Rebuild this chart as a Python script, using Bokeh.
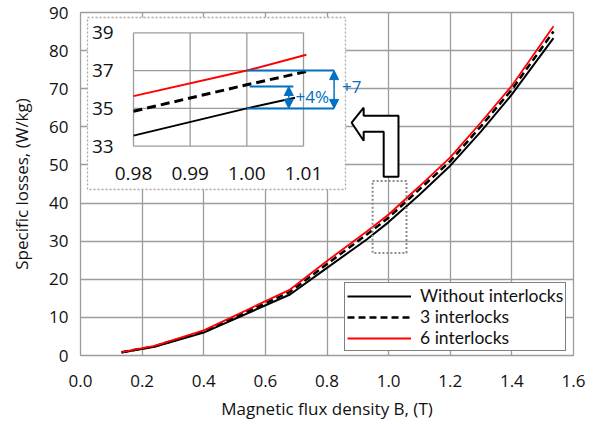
from bokeh.plotting import figure
from bokeh.models import (Range1d, FixedTicker, NumeralTickFormatter, Legend,
                          LegendItem, Arrow, NormalHead)
from bokeh.core.properties import value
from bokeh.embed import file_html
from bokeh.resources import INLINE

# ---------------- data ----------------
b_main = [0.133, 0.24, 0.40, 0.68, 0.80, 0.93, 1.00, 1.10, 1.20, 1.30, 1.40, 1.535]
loss_none = [0.8, 2.3, 6.0, 16.0, 23.0, 30.5, 35.0, 42.2, 49.8, 58.8, 68.5, 83.3]
loss_3 = [0.85, 2.4, 6.3, 16.7, 24.0, 31.8, 36.2, 43.6, 51.0, 60.2, 69.8, 85.0]
loss_6 = [0.9, 2.5, 6.6, 17.3, 24.8, 32.6, 37.0, 44.4, 52.0, 61.2, 70.8, 86.4]

inset_b_none = [0.98, 1.00, 1.0085]
inset_none = [33.56, 35.0, 35.56]
inset_b_3 = [0.98, 1.00, 1.0105]
inset_3 = [34.85, 36.25, 36.95]
inset_b_6 = [0.98, 1.00, 1.0105]
inset_6 = [35.65, 37.0, 37.84]

x_ticks = [0.0, 0.2, 0.4, 0.6, 0.8, 1.0, 1.2, 1.4, 1.6]
y_ticks = [0, 10, 20, 30, 40, 50, 60, 70, 80, 90]
inset_x_ticks = [0.98, 0.99, 1.00, 1.01]
inset_x_labels = ["0.98", "0.99", "1.00", "1.01"]
inset_y_ticks = [33, 35, 37, 39]
inset_y_labels = ["33", "35", "37", "39"]

# ---------------- layout constants ----------------
BL, BR, BT, BB = 80, 16, 12, 67
W, H = 589, 422
FW, FH = W - BL - BR, H - BT - BB   # 493 x 343
FONT = "Open Sans"
GRID = "#9c9c9c"
BLUE = "#0070C0"
TXT = "#111111"

# inset plot area in frame pixels (left, right, top, bottom)
IL, IR, IT, IB = 53, 223, 20.3, 133.7
ux = (inset_x_ticks[-1] - inset_x_ticks[0]) / (IR - IL)
uy = (inset_y_ticks[-1] - inset_y_ticks[0]) / (IB - IT)
ix_range = Range1d(inset_x_ticks[0] - IL * ux, inset_x_ticks[-1] + (FW - IR) * ux)
iy_range = Range1d(inset_y_ticks[0] - (FH - IB) * uy, inset_y_ticks[-1] + IT * uy)

p = figure(width=W, height=H,
           min_border_left=BL, min_border_right=BR, min_border_top=BT, min_border_bottom=BB,
           x_range=Range1d(0, 1.6), y_range=Range1d(0, 90),
           output_backend="svg", toolbar_location=None,
           background_fill_color="white", border_fill_color="white")
p.extra_x_ranges = {"ix": ix_range}
p.extra_y_ranges = {"iy": iy_range}

p.outline_line_color = GRID
p.outline_line_width = 1.3
p.xgrid.grid_line_color = GRID
p.ygrid.grid_line_color = GRID
p.xgrid.grid_line_width = 1.3
p.ygrid.grid_line_width = 1.3

p.xaxis.ticker = FixedTicker(ticks=x_ticks)
p.yaxis.ticker = FixedTicker(ticks=y_ticks)
p.xaxis.formatter = NumeralTickFormatter(format="0.0")
for ax in (p.xaxis, p.yaxis):
    ax.axis_line_color = None
    ax.major_tick_line_color = None
    ax.minor_tick_line_color = None
    ax.major_tick_out = 0
    ax.major_tick_in = 0
    ax.major_label_text_font = FONT
    ax.major_label_text_font_size = "17px"
    ax.major_label_text_color = TXT
    ax.axis_label_text_font = FONT
    ax.axis_label_text_font_size = "17px"
    ax.axis_label_text_font_style = "normal"
    ax.axis_label_text_color = TXT
p.xaxis.axis_label = "Magnetic flux density B, (T)"
p.yaxis.axis_label = "Specific losses, (W/kg)"
p.xaxis.major_label_standoff = 19
p.yaxis.major_label_standoff = 12
p.xaxis.axis_label_standoff = 7
p.yaxis.axis_label_standoff = 13

# ---------------- main curves ----------------
r0 = p.line(b_main, loss_none, line_color="black", line_width=2)
r3 = p.line(b_main, loss_3, line_color="black", line_width=2.5, line_dash="7 4")
r6 = p.line(b_main, loss_6, line_color="#ff0000", line_width=1.8)

# dotted zoom rectangle
p.quad(left=[0.948], right=[1.058], bottom=[26.9], top=[45.8], fill_color=None,
       line_color="#8c8c8c", line_dash="2 2", line_width=2)

# hollow L arrow
arrow_x = [0.880, 0.919, 0.919, 1.032, 1.032, 0.984, 0.984, 0.919, 0.919]
arrow_y = [61.08, 65.01, 62.91, 62.91, 46.9, 46.9, 58.7, 58.7, 56.35]
p.patch(arrow_x, arrow_y, fill_color="white", line_color="black", line_width=2)

# ---------------- inset ----------------
p.quad(left=[7 / FW * 1.6], right=[265 / FW * 1.6],
       top=[90 - 5 / FH * 90], bottom=[90 - 177 / FH * 90],
       fill_color="white", line_color="#a8a8a8", line_dash="2 2", line_width=1.3)

x0, x1 = inset_x_ticks[0], inset_x_ticks[-1]
y0, y1 = inset_y_ticks[0], inset_y_ticks[-1]
p.segment(x0=inset_x_ticks, x1=inset_x_ticks, y0=[y0] * 4, y1=[y1] * 4,
          line_color=GRID, line_width=1.3, x_range_name="ix", y_range_name="iy")
p.segment(x0=[x0] * 4, x1=[x1] * 4, y0=inset_y_ticks, y1=inset_y_ticks,
          line_color=GRID, line_width=1.3, x_range_name="ix", y_range_name="iy")

p.line(inset_b_none, inset_none, line_color="black", line_width=2,
       x_range_name="ix", y_range_name="iy")
p.line(inset_b_3, inset_3, line_color="black", line_width=3, line_dash="9 5",
       x_range_name="ix", y_range_name="iy")
p.line(inset_b_6, inset_6, line_color="#ff0000", line_width=2,
       x_range_name="ix", y_range_name="iy")

p.text(x=[x0 - 0.0035] * 4, y=inset_y_ticks, text=inset_y_labels,
       text_font=value(FONT), text_font_size="19px", text_align="right",
       text_baseline="middle", text_color=TXT,
       x_range_name="ix", y_range_name="iy")
p.text(x=inset_x_ticks, y=[y0 - 1.44] * 4, text=inset_x_labels,
       text_font=value(FONT), text_font_size="19px", text_align="center",
       text_baseline="middle", text_color=TXT,
       x_range_name="ix", y_range_name="iy")

# blue annotations
p.segment(x0=[1.00, 1.00, 1.0005], x1=[1.0154, 1.0154, 1.0082],
          y0=[37.0, 35.0, 36.16], y1=[37.0, 35.0, 36.16],
          line_color=BLUE, line_width=2, x_range_name="ix", y_range_name="iy")
for xa, ya0, ya1 in [(1.0074, 35.0, 36.16), (1.0154, 35.0, 37.0)]:
    for yend in (ya0, ya1):
        p.add_layout(Arrow(x_start=xa, y_start=(ya0 + ya1) / 2, x_end=xa, y_end=yend,
                           end=NormalHead(size=9, fill_color=BLUE, line_color=BLUE,
                                          line_width=1),
                           line_color=BLUE, line_width=1.5,
                           x_range_name="ix", y_range_name="iy"))
p.text(x=[1.0086, 1.0168], y=[35.62, 36.12], text=["+4%", "+7"],
       text_font=value(FONT), text_font_size="17px", text_align="left",
       text_baseline="middle", text_color=BLUE,
       x_range_name="ix", y_range_name="iy")

# ---------------- legend ----------------
legend = Legend(items=[LegendItem(label="Without interlocks", renderers=[r0]),
                       LegendItem(label="3 interlocks", renderers=[r3]),
                       LegendItem(label="6 interlocks", renderers=[r6])],
                location=(264, 4), border_line_color="black", border_line_width=1,
                background_fill_color="white", background_fill_alpha=1,
                label_text_font="Lato", label_text_font_size="17.5px",
                label_text_color=TXT,
                glyph_width=64, glyph_height=18, label_height=18, label_standoff=9,
                padding=2, spacing=0, margin=0)
p.add_layout(legend)

open("out.html", "w").write(file_html(p, INLINE))
